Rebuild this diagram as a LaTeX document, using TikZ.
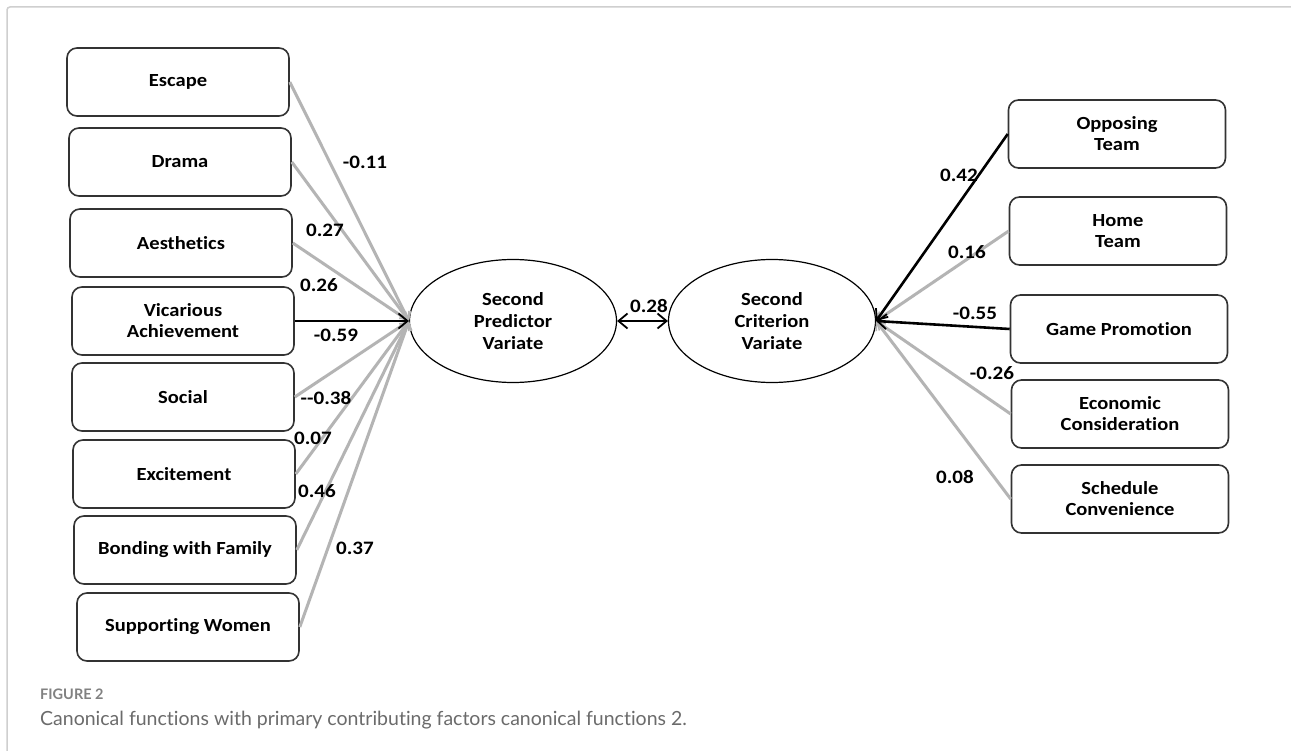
\documentclass[tikz,border=0pt]{standalone}
\usepackage{fontspec}
\setmainfont[FakeStretch=1.11, Ligatures=CommonOff]{Carlito}
\newfontfamily\capfont[Ligatures=CommonOff]{Lato}
\usetikzlibrary{arrows.meta,shapes.geometric}
\definecolor{boxline}{HTML}{333333}
\definecolor{lgray}{HTML}{B4B4B4}
\definecolor{frameg}{HTML}{CFCFCF}
\definecolor{capg}{HTML}{6B6B6B}
\tikzset{
  varbox/.style={draw=boxline, line width=1.6pt, rounded corners=10pt, minimum height=68pt,
    align=center, font=\fontsize{18.5}{21}\selectfont\bfseries, inner sep=2pt},
  lbox/.style={varbox, minimum width=222pt},
  rbox/.style={varbox, minimum width=217pt},
  varell/.style={draw=black, line width=1.2pt, ellipse, minimum width=207pt, minimum height=123pt,
    inner sep=0pt, align=center, font=\fontsize{18.5}{22}\selectfont\bfseries},
  graylink/.style={draw=lgray, line width=3pt, -{Straight Barb[length=7pt,width=12pt,line width=1.5pt]}},
  blacklink/.style={draw=black, line width=2.6pt, -{Straight Barb[length=9pt,width=15pt,line width=1.8pt]}},
  coef/.style={font=\fontsize{19}{22}\selectfont\bfseries, inner sep=0pt}
}
\begin{document}
\begin{tikzpicture}[x=1pt,y=-1pt]
\useasboundingbox (0,0) rectangle (1291,751);
\fill[white] (0,0) rectangle (1291,751);
% frame
\draw[frameg, line width=1.5pt, rounded corners=3pt] (7,751) -- (7,7) -- (1291,7);
% left boxes
\node[lbox] (esc) at (178,82) {Escape};
\node[lbox] (dra) at (180,162) {Drama};
\node[lbox] (aes) at (181,243) {Aesthetics};
\node[lbox] (vic) at (183,321) {Vicarious\\Achievement};
\node[lbox] (soc) at (183,397) {Social};
\node[lbox] (exc) at (184,474) {Excitement};
\node[lbox] (bon) at (185,550) {Bonding with Family};
\node[lbox] (sup) at (188,627) {Supporting Women};
% ellipses
\node[varell] (pred) at (513,321) {Second\\Predictor\\Variate};
\node[varell] (crit) at (772,321) {Second\\Criterion\\Variate};
% right boxes
\node[rbox] (opp) at (1117,134) {Opposing\\Team};
\node[rbox] (home) at (1118,231) {Home\\Team};
\node[rbox] (game) at (1119,329) {Game Promotion};
\node[rbox] (eco) at (1120,414) {Economic\\Consideration};
\node[rbox] (sch) at (1120,499) {Schedule\\Convenience};
% left links
\draw[graylink] (esc.east) -- (pred.west);
\draw[graylink] (dra.east) -- (pred.west);
\draw[graylink] (aes.east) -- (pred.west);
\draw[graylink] (soc.east) -- (pred.west);
\draw[graylink] (exc.east) -- (pred.west);
\draw[graylink] (bon.east) -- (pred.west);
\draw[graylink] (sup.east) -- (pred.west);
\draw[blacklink] (vic.east) -- (pred.west);
% right links
\draw[graylink] (home.west) -- (crit.east);
\draw[graylink] (eco.west) -- (crit.east);
\draw[graylink] (sch.west) -- (crit.east);
\draw[blacklink] (opp.west) -- (crit.east);
\draw[blacklink] (game.west) -- (crit.east);
% correlation
\draw[black, line width=2.6pt, {Straight Barb[length=9pt,width=15pt,line width=1.8pt]}-{Straight Barb[length=9pt,width=15pt,line width=1.8pt]}] (pred.east) -- (crit.west);
% coefficients
\node[coef] (c1) at (365,162) {-0.11};
\node[coef] (c2) at (325,230) {0.27};
\node[coef] (c3) at (319,285) {0.26};
\node[coef] (c4) at (336,335) {-0.59};
\node[coef] (c5) at (326,398) {-{}-0.38};
\node[coef] (c6) at (313,438) {0.07};
\node[coef] (c7) at (317,491) {0.46};
\node[coef] (c8) at (355,548) {0.37};
\node[coef] (c9) at (649,306) {0.28};
\node[coef] (c10) at (959,175) {0.42};
\node[coef] (c11) at (967,252) {0.16};
\node[coef] (c12) at (975,313) {-0.55};
\node[coef] (c13) at (992,373) {-0.26};
\node[coef] (c14) at (955,477) {0.08};
% caption
\node[anchor=west, inner sep=0pt, text=capg!85, font=\capfont\bfseries\fontsize{14.5}{16}\selectfont] (fig) at (40,694) {FIGURE 2};
\node[anchor=west, inner sep=0pt, text=capg, font=\capfont\fontsize{19.5}{23}\selectfont] (cap) at (40,720) {Canonical functions with primary contributing factors canonical functions 2.};
\end{tikzpicture}
\end{document}
